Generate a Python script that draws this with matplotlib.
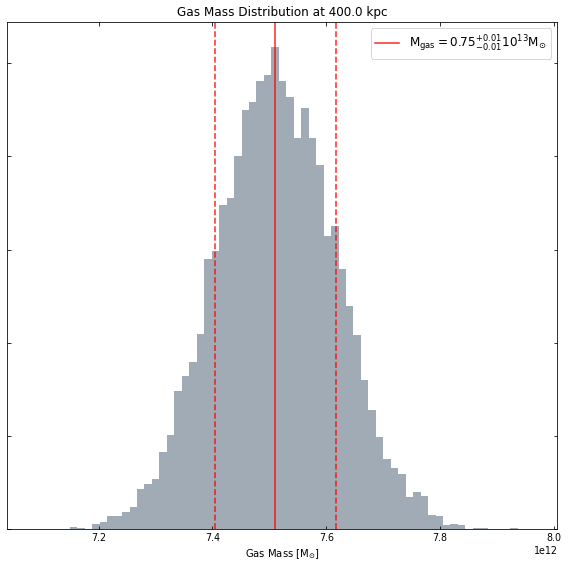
import numpy as np
import matplotlib
matplotlib.use("Agg")
import matplotlib.pyplot as plt

# histogram data (counts per bin), gas mass in Msun
bin_start = 7.1231e12
bin_width = 0.013118e12
counts = [1, 0, 3, 2, 0, 6, 8, 14, 14, 19,
          24, 43, 49, 54, 83, 101, 148, 164, 179, 210,
          290, 298, 348, 355, 400, 449, 458, 481, 487, 517,
          481, 463, 419, 452, 420, 391, 314, 325, 279, 240,
          208, 160, 128, 99, 76, 66, 59, 35, 40, 36,
          16, 14, 5, 6, 5, 0, 2, 2, 0, 1,
          0, 2]
median = 7.5107e12
lower = 7.4043e12
upper = 7.6170e12
legend_label = r'$\mathrm{M_{gas}} = 0.75^{+0.01}_{-0.01} 10^{13} \mathrm{M_{\odot}}$'

edges = bin_start + bin_width * np.arange(len(counts) + 1)
centers = 0.5 * (edges[:-1] + edges[1:])

fig = plt.figure(figsize=(568 / 72, 568 / 72), dpi=72)
ax = fig.add_axes([0.0132, 0.0678, 0.9683, 0.8928])

ax.hist(centers, bins=edges, weights=counts, color='#a0abb6')
ax.axvline(median, color='red', alpha=0.8, lw=1.6, label=legend_label)
ax.axvline(lower, color='red', alpha=0.8, lw=1.6, ls='--')
ax.axvline(upper, color='red', alpha=0.8, lw=1.6, ls='--')

ax.set_xlim(7.0397e12, 8.0065e12)
ax.set_ylim(0, 543.4)
ax.set_yticks([0, 100, 200, 300, 400, 500])
ax.tick_params(direction='in', top=True, right=True, labelleft=False, labelsize=9.5)
ax.xaxis.get_offset_text().set_fontsize(9.5)
ax.set_title('Gas Mass Distribution at 400.0 kpc', fontsize=12)
ax.set_xlabel(r'Gas Mass [M$_{\odot}$]', fontsize=10)
ax.legend(loc='upper right', fontsize=12)

fig.savefig('out.png', dpi=72)
